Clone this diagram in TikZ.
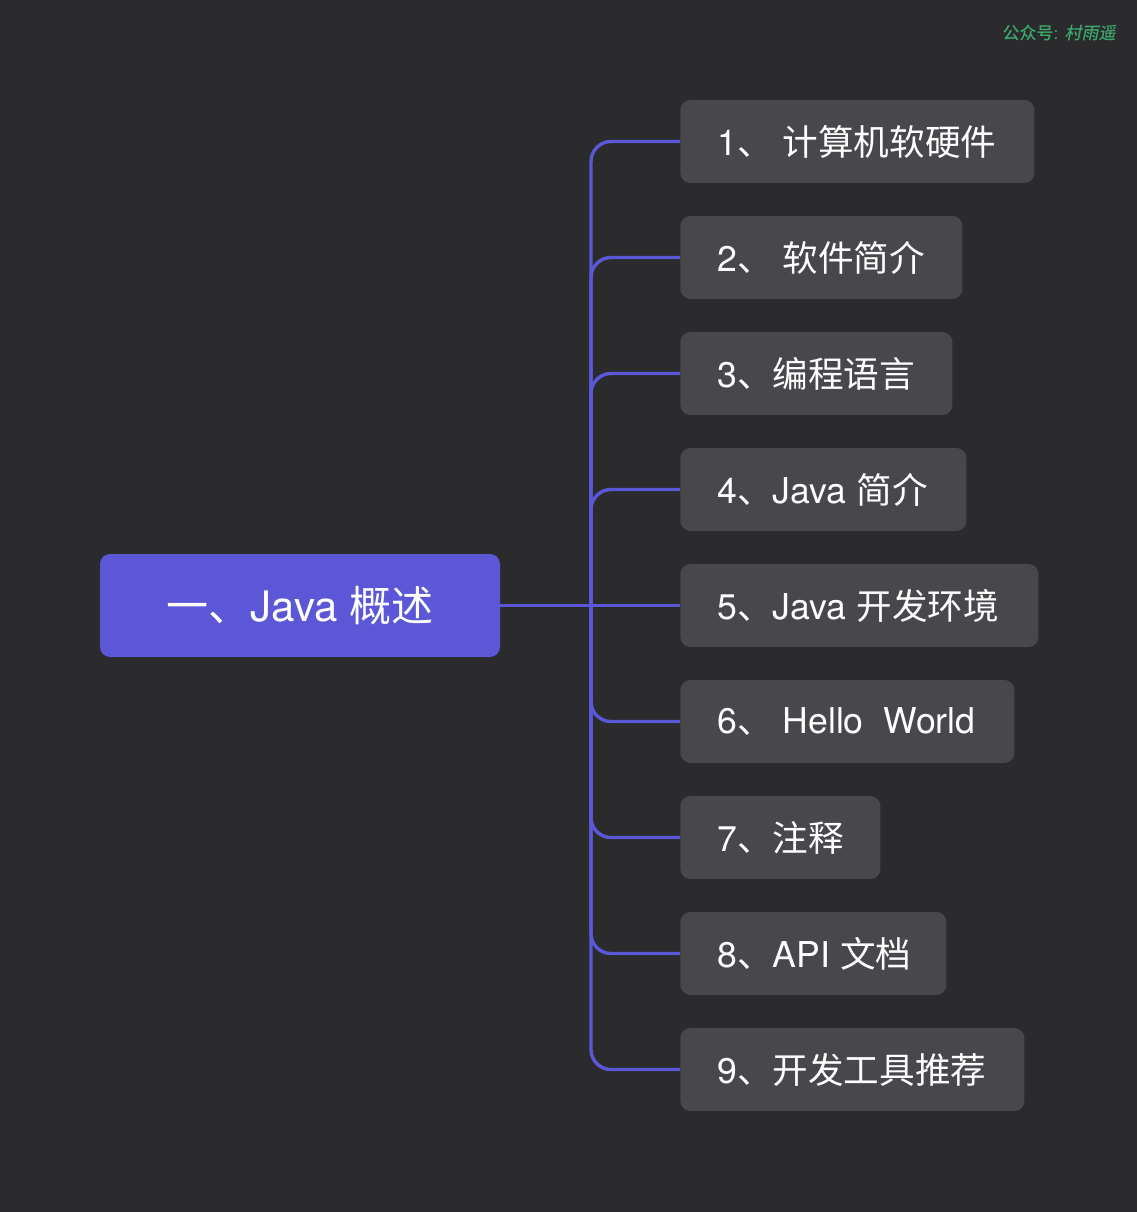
\documentclass[tikz,border=0pt]{standalone}
\usepackage{fontspec}
\setmainfont{TeX Gyre Heros}
\newfontfamily\cjk{Noto Sans CJK SC}
\newfontfamily\cjkwm{Noto Sans CJK SC Medium}
\newfontfamily\cjkslant[FakeSlant=0.2]{Noto Sans CJK SC Medium}
\definecolor{bg}{HTML}{2B2B2D}
\definecolor{boxgray}{HTML}{48474C}
\definecolor{purp}{HTML}{5B57D6}
\definecolor{wmgreen}{HTML}{3CA86E}
\newcommand{\lbox}[2]{\makebox[#1][l]{#2}}
\tikzset{
  child/.style={fill=boxgray, rounded corners=5pt, anchor=west, minimum height=41.5pt,
    inner xsep=18.5pt, inner ysep=0pt, text=white,
    font=\fontsize{17.8}{21}\selectfont},
  rootbox/.style={fill=purp, rounded corners=5pt, minimum width=200pt, minimum height=51.5pt,
    inner sep=0pt, text=white, font=\fontsize{21}{25}\selectfont},
  conn/.style={draw=purp, line width=1.7pt, rounded corners=10pt}
}
\begin{document}
\begin{tikzpicture}[x=0.5pt, y=-0.5pt]
\fill[bg] (0,0) rectangle (1137,1212);
\useasboundingbox (0,0) rectangle (1137,1212);
\node[anchor=east, text=wmgreen, inner sep=0pt, font=\fontsize{8.5}{10}\selectfont] (wm) at (1116,33) {{\cjkwm 公众号}: {\cjkslant 村雨遥}};
\node[rootbox] (root) at (300,605.5) {{\cjk 一、}Java {\cjk 概述}};
\node[child] (c1) at (680,141.5) {\lbox{140pt}{1{\cjk 、} {\cjk 计算机软硬件}}};
\node[child] (c2) at (680,257.5) {\lbox{104pt}{2{\cjk 、} {\cjk 软件简介}}};
\node[child] (c3) at (680,373.5) {\lbox{99pt}{3{\cjk 、编程语言}}};
\node[child] (c4) at (680,489.5) {\lbox{106pt}{4{\cjk 、}Java {\cjk 简介}}};
\node[child] (c5) at (680,605.5) {\lbox{142pt}{5{\cjk 、}Java {\cjk 开发环境}}};
\node[child] (c6) at (680,721.5) {\lbox{130pt}{6{\cjk 、} Hello\ \ World}};
\node[child] (c7) at (680,837.5) {\lbox{63pt}{7{\cjk 、注释}}};
\node[child] (c8) at (680,953.5) {\lbox{96pt}{8{\cjk 、}API {\cjk 文档}}};
\node[child] (c9) at (680,1069.5) {\lbox{135pt}{9{\cjk 、开发工具推荐}}};
\coordinate (trunk) at (591,605.5);
\draw[conn] (root.east) -- (c5.west);
\foreach \n in {c1,c2,c3,c4,c6,c7,c8,c9}{
  \draw[conn] (trunk) |- (\n.west);
}
\end{tikzpicture}
\end{document}
